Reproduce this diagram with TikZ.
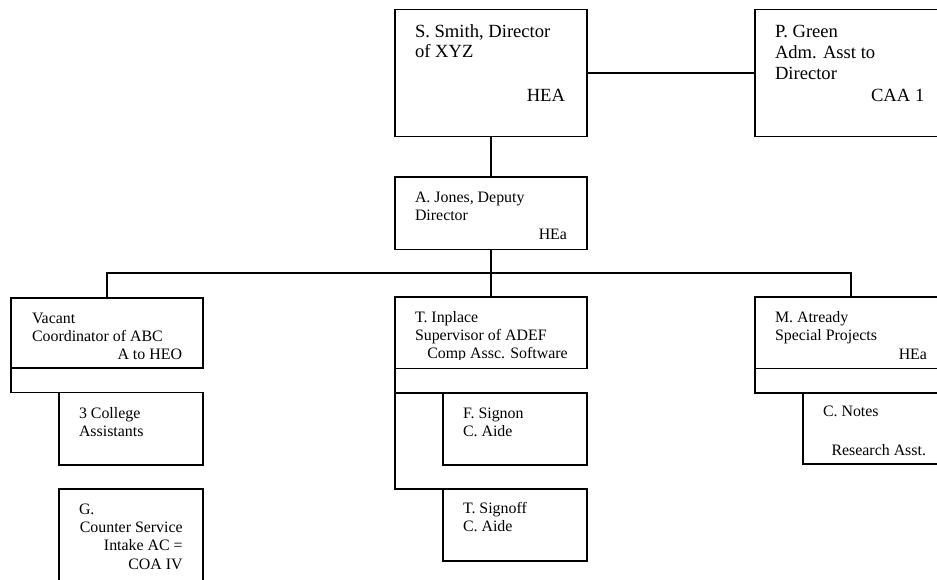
\documentclass[tikz,border=0pt]{standalone}
\usepackage{fontspec}
\setmainfont{Liberation Serif}
\begin{document}
\begin{tikzpicture}[x=1pt,y=-1pt,
  box/.style={draw, line width=1.4pt, inner sep=0pt, outer sep=0pt, anchor=north west, rectangle},
  wide/.style={minimum width=192pt},
  narrow/.style={minimum width=144pt},
  link/.style={line width=1.4pt},
  bigt/.style={font=\fontsize{18.6}{20}\selectfont, inner sep=0pt, outer sep=0pt},
  smt/.style={font=\fontsize{15.9}{18}\selectfont, inner sep=0pt, outer sep=0pt},
  lft/.style={anchor=base west}, rgt/.style={anchor=base east}]
\clip (0,0) rectangle (937,580);
% boxes
\node[box, wide, minimum height=127.4pt] (smith) at (395,9.3) {};
\node[box, wide, minimum height=127.4pt] (green) at (755,9.3) {};
\node[box, wide, minimum height=72.3pt] (jones) at (395,177) {};
\node[box, wide, minimum height=70.6pt, line width=2pt] (vacant) at (11,297.7) {};
\node[box, narrow, minimum height=72.5pt] (college) at (59,392.5) {};
\node[box, narrow, minimum height=130pt] (gbox) at (59,489) {};
\node[box, wide, minimum height=71.3pt] (inplace) at (395,297) {};
\node[box, narrow, minimum height=72pt] (signon) at (443,393) {};
\node[box, narrow, minimum height=72pt] (signoff) at (443,489) {};
\node[box, wide, minimum height=71.3pt] (atready) at (755,297) {};
\node[box, narrow, minimum height=71pt] (notes) at (803,393) {};
% connectors
\coordinate (busL) at (107,273);
\coordinate (busR) at (851,273);
\draw[link] (smith.east) -- (green.west);
\draw[link] (smith.south) -- (jones.north);
\draw[link] (jones.south) -- (inplace.north);
\draw[link] (vacant.north) -- (busL) -- (busR) -- (atready.north);
\draw[link] (vacant.south west) |- (college.north west);
\draw[link] (inplace.south west) |- (signon.north west);
\draw[link] (inplace.south west) |- (signoff.north west);
\draw[link] (atready.south west) |- (notes.north west);
% texts
\node[bigt, lft] (smithA) at (415,37.3) {S. Smith, Director};
\node[bigt, lft] (smithB) at (415,57.3) {of XYZ};
\node[bigt, rgt] (smithC) at (565,101.7) {HEA};
\node[bigt, lft] (greenA) at (775,37.3) {P. Green};
\node[bigt, lft] (greenB) at (775,58.3) {Adm. Asst to};
\node[bigt, lft] (greenC) at (775,79.3) {Director};
\node[bigt, rgt] (greenD) at (924.3,101.7) {CAA 1};
\node[smt, lft] (jonesA) at (415,202.7) {A. Jones, Deputy};
\node[smt, lft] (jonesB) at (415,220.7) {Director};
\node[smt, rgt] (jonesC) at (567,239.3) {HEa};
\node[smt, lft] (vacantA) at (32,323.7) {Vacant};
\node[smt, lft] (vacantB) at (32,341.7) {Coordinator of ABC};
\node[smt, rgt] (vacantC) at (182,359.5) {A to HEO};
\node[smt, lft] (collegeA) at (79,418) {3 College};
\node[smt, lft] (collegeB) at (79,436.3) {Assistants};
\node[smt, lft] (gA) at (79,514) {G.};
\node[smt, rgt] (gB) at (182.7,532.3) {Counter Service};
\node[smt, rgt] (gC) at (182.7,550.6) {Intake AC =};
\node[smt, rgt] (gD) at (182.7,569) {COA IV};
\node[smt, lft] (inplaceA) at (415,322.3) {T. Inplace};
\node[smt, lft] (inplaceB) at (415,340.6) {Supervisor of ADEF};
\begin{scope}
\clip (396,345) rectangle (586,359);
\node[smt, lft] (inplaceC) at (427.3,358.3) {Comp Assc. Software};
\end{scope}
\node[smt, lft] (signonA) at (463,418.3) {F. Signon};
\node[smt, lft] (signonB) at (463,436.6) {C. Aide};
\node[smt, lft] (signoffA) at (463,513.3) {T. Signoff};
\node[smt, lft] (signoffB) at (463,531.6) {C. Aide};
\node[smt, lft] (atreadyA) at (775,322.3) {M. Atready};
\node[smt, lft] (atreadyB) at (775,340.6) {Special Projects};
\node[smt, rgt] (atreadyC) at (927,359) {HEa};
\node[smt, lft] (notesA) at (823,416.7) {C. Notes};
\node[smt, rgt] (notesB) at (926,455) {Research Asst.};
\end{tikzpicture}
\end{document}
